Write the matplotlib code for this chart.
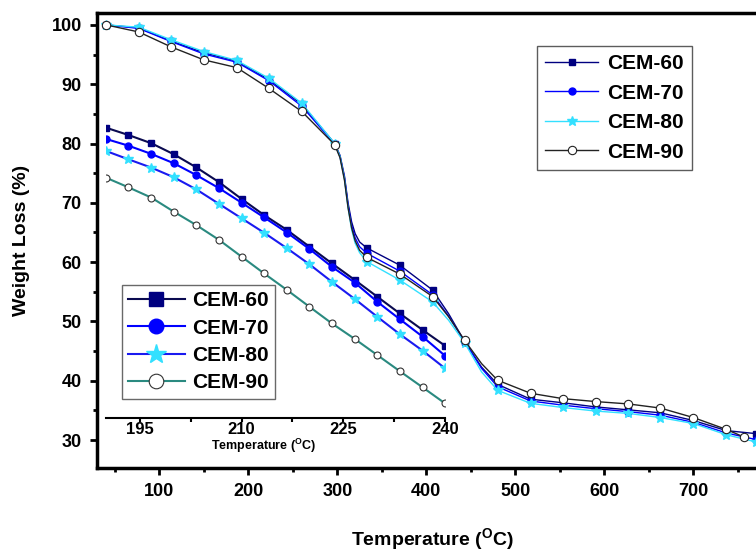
import matplotlib

matplotlib.use("Agg")
import matplotlib.pyplot as plt
from matplotlib.ticker import MultipleLocator

plt.rcParams["font.family"] = ["Liberation Sans", "DejaVu Sans"]
plt.rcParams["font.weight"] = "bold"
plt.rcParams["mathtext.fontset"] = "custom"
plt.rcParams["mathtext.rm"] = "Liberation Sans:bold"
plt.rcParams["mathtext.bf"] = "Liberation Sans:bold"

# main TGA curves (temperature in C, weight %)
temp_main = [40, 77, 113, 150, 187, 223, 260, 297, 303, 308, 312, 316, 320, 325,
             333, 370, 407, 425, 443, 462, 480, 517, 553, 590, 627, 663, 700, 737, 770]
temp_main_90 = [40, 77, 113, 150, 187, 223, 260, 297, 303, 308, 312, 316, 320, 325,
                333, 370, 407, 425, 443, 462, 480, 517, 553, 590, 627, 663, 700, 737, 757]
mark_idx = [0, 1, 2, 3, 4, 5, 6, 7, 14, 15, 16, 18, 20, 21, 22, 23, 24, 25, 26, 27, 28]

cem60 = [100, 99.5, 97.3, 95.3, 93.9, 90.8, 86.6, 80.0, 78.0, 74.5, 70.0, 66.8, 64.8, 63.4,
         62.4, 59.5, 55.3, 51.3, 46.6, 42.3, 39.4, 36.9, 36.3, 35.6, 35.1, 34.6, 33.3, 31.6, 31.1]
cem70 = [100, 99.4, 97.2, 95.1, 93.7, 90.6, 86.3, 79.9, 77.8, 74.2, 69.6, 66.2, 64.1, 62.6,
         61.5, 58.5, 54.5, 50.9, 46.6, 42.1, 39.0, 36.6, 35.9, 35.3, 34.8, 34.2, 33.0, 31.2, 30.1]
cem80 = [100, 99.6, 97.5, 95.5, 94.0, 91.0, 86.8, 80.0, 77.8, 74.0, 69.2, 65.5, 63.2, 61.6,
         60.1, 57.0, 53.3, 50.2, 46.4, 41.5, 38.4, 36.2, 35.5, 34.9, 34.5, 33.8, 32.8, 30.9, 29.7]
cem90 = [100, 98.8, 96.3, 94.1, 92.8, 89.3, 85.4, 79.8, 77.6, 73.8, 69.2, 65.8, 63.6, 62.0,
         60.8, 58.0, 54.2, 50.8, 46.8, 42.9, 40.1, 37.9, 37.0, 36.5, 36.1, 35.4, 33.8, 31.8, 30.5]

# inset (zoom on 190-240 C)
temp_inset = [190, 193.3, 196.7, 200, 203.3, 206.7, 210, 213.3, 216.7, 220, 223.3,
              226.7, 230, 233.3, 236.7, 240]
inset60 = [82.68, 81.45, 80.05, 78.20, 76.00, 73.47, 70.66, 67.96, 65.43, 62.62, 59.81,
           57.00, 54.19, 51.38, 48.57, 45.92]
inset70 = [80.78, 79.65, 78.25, 76.68, 74.70, 72.46, 70.03, 67.57, 64.98, 62.23, 59.24,
           56.55, 53.34, 50.42, 47.44, 44.23]
inset80 = [78.75, 77.35, 75.94, 74.32, 72.29, 69.81, 67.40, 64.98, 62.34, 59.65, 56.71,
           53.79, 50.81, 47.89, 45.08, 42.11]
inset90 = [74.25, 72.63, 70.88, 68.52, 66.27, 63.74, 60.93, 58.12, 55.31, 52.49, 49.69,
           47.05, 44.35, 41.65, 38.90, 36.20]

labels = ["CEM-60", "CEM-70", "CEM-80", "CEM-90"]

W, H = 756, 553
fig = plt.figure(figsize=(W / 100, H / 100), dpi=100)

# main axes (right side cropped out of the picture, like the source)
ax = fig.add_axes([97 / W, 1 - 468 / H, 681 / W, 455 / H])
ax.plot(temp_main, cem60, color="#000080", lw=1.0, marker="s", ms=5,
        mfc="#000080", mec="#000080", markevery=mark_idx, label=labels[0])
ax.plot(temp_main, cem70, color="#0000ff", lw=1.0, marker="o", ms=5,
        mfc="#0000ff", mec="#0000ff", markevery=mark_idx, label=labels[1])
ax.plot(temp_main, cem80, color="#33e0ff", lw=1.0, marker="*", ms=7,
        mfc="#33e0ff", mec="#33e0ff", markevery=mark_idx, label=labels[2])
ax.plot(temp_main_90, cem90, color="#222222", lw=1.0, marker="o", ms=6,
        mfc="white", mec="#222222", mew=0.8, markevery=mark_idx, label=labels[3])

ax.set_xlim(30, 795)
ax.set_ylim(25.3, 102)
ax.xaxis.set_major_locator(MultipleLocator(100))
ax.xaxis.set_minor_locator(MultipleLocator(50))
ax.yaxis.set_major_locator(MultipleLocator(10))
ax.yaxis.set_minor_locator(MultipleLocator(5))
ax.tick_params(which="major", direction="out", length=5, width=2, labelsize=13, pad=6)
ax.tick_params(which="minor", direction="out", length=3, width=2)
for s in ax.spines.values():
    s.set_linewidth(2.5)

ax.legend(loc="upper left", bbox_to_anchor=(537 / W, 1 - 46 / H),
          bbox_transform=fig.transFigure, borderaxespad=0, frameon=True,
          fancybox=False, edgecolor="#333333", fontsize=15, handlelength=2.55,
          handletextpad=0.4, labelspacing=0.5, borderpad=0.4)
ax.get_legend().get_frame().set_linewidth(1.0)

fig.text(22 / W, 1 - 240 / H, "Weight Loss (%)", rotation=90, ha="center",
         va="center", fontsize=14, fontweight="bold")
fig.text(432 / W, 1 - 540 / H, "Temperature ($^{\\mathbf{O}}$C)", ha="center",
         va="center", fontsize=14, fontweight="bold")

# inset
ins = fig.add_axes([106 / W, 1 - 418 / H, 339 / W, 318 / H])
ins.patch.set_alpha(0)
ins.plot(temp_inset, inset60, color="#0a0a50", lw=1.5, marker="s", ms=5,
         mfc="#000080", mec="#000080", label=labels[0])
ins.plot(temp_inset, inset70, color="#0000ff", lw=1.5, marker="o", ms=5,
         mfc="#0000ff", mec="#0000ff", label=labels[1])
ins.plot(temp_inset, inset80, color="#1a1af0", lw=1.5, marker="*", ms=7,
         mfc="#33e0ff", mec="#33e0ff", label=labels[2])
ins.plot(temp_inset, inset90, color="#2a8a80", lw=1.5, marker="o", ms=5,
         mfc="white", mec="#333333", mew=0.8, label=labels[3])
ins.set_xlim(190, 240)
ins.set_ylim(33.73, 87.35)
for side in ["left", "top", "right"]:
    ins.spines[side].set_visible(False)
ins.spines["bottom"].set_linewidth(1.5)
ins.set_yticks([])
ins.xaxis.set_minor_locator(MultipleLocator(7.5))
ins.set_xticks([195, 210, 225, 240])
ins.tick_params(which="major", direction="out", length=3, width=1.5, labelsize=12, pad=0)
ins.tick_params(which="minor", direction="out", length=3, width=1.5)
fig.text(264 / W, 1 - 446 / H, "Temperature ($^{\\mathbf{O}}$C)", ha="center",
         va="center", fontsize=9, fontweight="bold")

ins.legend(loc="upper left", bbox_to_anchor=(122 / W, 1 - 285 / H),
           bbox_transform=fig.transFigure, borderaxespad=0, frameon=True,
           fancybox=False, edgecolor="#444444", fontsize=15, handlelength=2.7,
           handletextpad=0.35, labelspacing=0.4, borderpad=0.3, markerscale=2.1)
ins.get_legend().get_frame().set_linewidth(1.0)

fig.savefig("out.png", dpi=100)
